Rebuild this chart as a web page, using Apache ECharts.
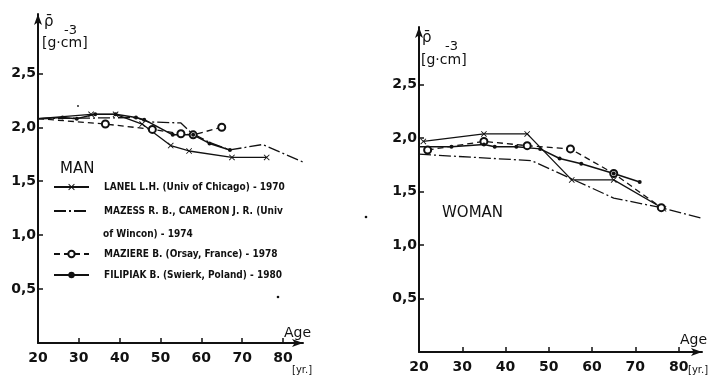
<!DOCTYPE html>
<html>
<head>
<meta charset="utf-8">
<script src="https://cdn.jsdelivr.net/npm/echarts@6/dist/echarts.min.js"></script>
<style>
  html, body { margin: 0; padding: 0; background: #fff; }
  #chart { width: 710px; height: 383px; }
</style>
</head>
<body>
<div id="chart"></div>
<script>
// series names (legend)
var nameLanel = 'LANEL L.H. (Univ of Chicago) - 1970';
var nameMazess = 'MAZESS R. B., CAMERON J. R. (Univ';
var nameMaziere = 'MAZIERE B. (Orsay, France) - 1978';
var nameFilipiak = 'FILIPIAK B. (Swierk, Poland) - 1980';

// MAN  [age, density g/cm3]
var manLanel = [[20, 2.08], [33, 2.12], [39, 2.12], [45.5, 2.03], [52.5, 1.83], [57, 1.78], [67.5, 1.72], [76, 1.72]];
var manMazess = [[20, 2.08], [44, 2.09], [47, 2.05], [55, 2.04], [57.5, 1.95], [62, 1.86], [67, 1.79], [75, 1.84], [86, 1.66]];
var manMaziere = [[20, 2.08], [36.5, 2.03], [48, 1.98], [55, 1.94], [58, 1.93], [65, 2.00]];
var manFilipiak = [[20, 2.08], [26, 2.09], [29.5, 2.08], [34, 2.12], [39, 2.12], [44, 2.09], [46, 2.07], [53, 1.93], [58, 1.93], [62, 1.85], [67, 1.79]];

// WOMAN
var womanLanel = [[21, 1.97], [35, 2.04], [45, 2.04], [55.3, 1.61], [65, 1.61], [76.5, 1.34]];
var womanMazess = [[20, 1.85], [46, 1.79], [65, 1.44], [76, 1.35], [85.4, 1.25]];
var womanMaziere = [[22, 1.89], [35, 1.97], [45, 1.93], [55, 1.90], [65, 1.67], [76, 1.35]];
var womanFilipiak = [[20, 1.92], [27.5, 1.92], [35, 1.94], [37.5, 1.92], [42.5, 1.92], [48, 1.90], [52.5, 1.81], [57.5, 1.76], [65, 1.67], [71, 1.59]];

// ticks
var ageTicks = [30, 40, 50, 60, 70, 80];
var ageLabels = [20, 30, 40, 50, 60, 70, 80];
var rhoTicks = [0.5, 1.0, 1.5, 2.0, 2.5];

var ink = '#111';
var font = 'DejaVu Sans';
var crossPath = 'path://M0,1L1,0L5,4L9,0L10,1L6,5L10,9L9,10L5,6L1,10L0,9L4,5Z';

// no marker where a curve starts on the y axis
function pts(arr) {
	return arr.map(function (p) {
		return p[0] === 20 ? { value: p, symbol: 'none' } : p;
	});
}

function xAxisFor(idx, max) {
	return {
		type: 'value', gridIndex: idx, min: 20, max: max, interval: 10,
		axisLine: { show: true, lineStyle: { color: ink, width: 2 }, symbol: ['none', 'arrow'], symbolSize: [6, 11] },
		axisTick: { show: true, inside: true, length: 5, customValues: ageTicks, lineStyle: { color: ink, width: 1.5 } },
		axisLabel: { customValues: ageLabels, color: ink, fontFamily: font, fontWeight: 'bold', fontSize: 14, margin: 8 },
		splitLine: { show: false }
	};
}

function yAxisFor(idx, max) {
	return {
		type: 'value', gridIndex: idx, min: 0, max: max, interval: 0.5,
		axisLine: { show: true, lineStyle: { color: ink, width: 2 }, symbol: ['none', 'arrow'], symbolSize: [6, 11] },
		axisTick: { show: true, inside: true, length: 5, customValues: rhoTicks, lineStyle: { color: ink, width: 1.5 } },
		axisLabel: {
			customValues: rhoTicks, color: ink, fontFamily: font, fontWeight: 'bold', fontSize: 14, margin: 2,
			formatter: function (v) { return v.toFixed(1).replace('.', ','); }
		},
		splitLine: { show: false }
	};
}

function seriesFor(idx, lanel, mazess, maziere, filipiak) {
	var base = { type: 'line', xAxisIndex: idx, yAxisIndex: idx, clip: false, animation: false, z: 3 };
	return [
		Object.assign({}, base, {
			name: nameLanel, data: pts(lanel), symbol: crossPath, symbolSize: 6,
			itemStyle: { color: ink }, lineStyle: { color: ink, width: 1.3 }
		}),
		Object.assign({}, base, {
			name: nameMazess, data: mazess, symbol: 'none',
			itemStyle: { color: ink },
			lineStyle: { color: ink, width: 1.3, type: [12, 3, 2, 3] }
		}),
		Object.assign({}, base, {
			name: nameMaziere, data: pts(maziere), symbol: 'emptyCircle', symbolSize: 7,
			itemStyle: { color: ink, borderWidth: 1.3 },
			lineStyle: { color: ink, width: 1.3, type: [6, 4] }
		}),
		Object.assign({}, base, {
			name: nameFilipiak, data: pts(filipiak), symbol: 'circle', symbolSize: 4,
			itemStyle: { color: ink }, lineStyle: { color: ink, width: 1.5 }
		})
	];
}

function legendAt(name, top, hideSymbol) {
	var lg = {
		data: [name], left: 53, top: top, orient: 'vertical', padding: 0,
		itemWidth: 35, itemHeight: 8, selectedMode: false,
		textStyle: { color: ink, fontFamily: 'DejaVu Sans Condensed', fontWeight: 'bold', fontSize: 10, padding: [0, 0, 0, 10] }
	};
	if (hideSymbol) lg.itemStyle = { opacity: 0 };
	return lg;
}

function txt(x, y, s, size, extra) {
	return {
		type: 'text', left: x, top: y, z: 10,
		style: Object.assign({ text: s, fill: ink, font: size + 'px "' + font + '"' }, extra || {})
	};
}

var myChart = echarts.init(document.getElementById('chart'), null, { renderer: 'canvas' });

var option = {
	backgroundColor: '#fff',
	animation: false,
	grid: [
		{ left: 38, top: 14, width: 265, height: 329 },
		{ left: 419, top: 27, width: 283, height: 325 }
	],
	xAxis: [xAxisFor(0, 84.9), xAxisFor(1, 85.4)],
	yAxis: [yAxisFor(0, 3.05), yAxisFor(1, 3.04)],
	legend: [
		legendAt(nameLanel, 182),
		legendAt(nameMazess, 206, true),
		legendAt(nameMaziere, 249),
		legendAt(nameFilipiak, 270)
	],
	series: seriesFor(0, manLanel, manMazess, manMaziere, manFilipiak)
		.concat(seriesFor(1, womanLanel, womanMazess, womanMaziere, womanFilipiak)),
	graphic: [
		// left axis title
		txt(44, 15, 'ρ\u0304', 15),
		txt(64, 24, '-3', 13),
		txt(42, 36, '[g·cm]', 14),
		// right axis title
		txt(422, 31, 'ρ\u0304', 15),
		txt(445, 40, '-3', 13),
		txt(421, 53, '[g·cm]', 14),
		// panel labels
		txt(60, 162, 'MAN', 15),
		txt(442, 206, 'WOMAN', 15),
		// second line of Mazess legend entry
		txt(103, 229, 'of Wincon) - 1974', 10, { font: 'bold 10px "DejaVu Sans Condensed"' }),
		// age unit labels
		txt(284, 326, 'Age', 14),
		txt(292, 365, '[yr.]', 10),
		txt(680, 333, 'Age', 14),
		txt(688, 365, '[yr.]', 10),
		// specks from the scan
		{ type: 'circle', shape: { cx: 278, cy: 297, r: 1.3 }, style: { fill: ink } },
		{ type: 'circle', shape: { cx: 366, cy: 217, r: 1.3 }, style: { fill: ink } },
		{ type: 'circle', shape: { cx: 78, cy: 106, r: 0.9 }, style: { fill: ink } }
	]
};

myChart.setOption(option);

window.addEventListener('resize', function () {
	myChart.resize();
});
</script>
</body>
</html>
